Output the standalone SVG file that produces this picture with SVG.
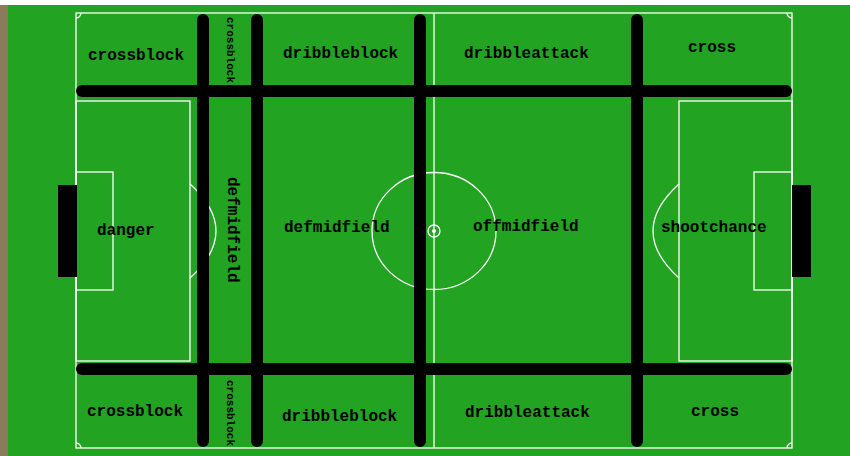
<svg xmlns="http://www.w3.org/2000/svg" width="850" height="456" viewBox="0 0 850 456">
<style>
.ln{fill:none;stroke:#ffffff;stroke-width:1.3}
.bar{stroke:#000;stroke-width:12;stroke-linecap:round}
.lbl{font-family:"Liberation Mono","DejaVu Sans Mono",monospace;font-weight:bold;font-size:16px;fill:#000}
.sm{font-size:11px}
</style>
<rect x="0" y="0" width="850" height="456" fill="#ffffff"/>
<rect x="0" y="5" width="8" height="451" fill="#8b7b5c"/>
<rect x="8" y="5" width="842" height="451" fill="#22a322"/>
<g id="field">
<rect class="ln" x="76" y="13" width="716" height="435"/>
<line class="ln" x1="434" y1="13" x2="434" y2="448"/>
<ellipse class="ln" cx="434" cy="231" rx="62" ry="58.5"/>
<circle class="ln" cx="434" cy="231" r="6"/>
<circle cx="434" cy="231" r="2" fill="#fff"/>
<rect class="ln" x="76" y="101" width="114" height="260"/>
<rect class="ln" x="76" y="172" width="37" height="118"/>
<path class="ln" d="M190,184 Q242,231 190,278"/>
<rect class="ln" x="679" y="101" width="113" height="260"/>
<rect class="ln" x="754" y="172" width="38" height="118"/>
<path class="ln" d="M679,184 Q627,231 679,278"/>
<path class="ln" d="M76,18 A5,5 0 0 0 81,13"/>
<path class="ln" d="M787,13 A5,5 0 0 0 792,18"/>
<path class="ln" d="M81,448 A5,5 0 0 0 76,443"/>
<path class="ln" d="M792,443 A5,5 0 0 0 787,448"/>
<rect x="58" y="185" width="19" height="92" fill="#000"/>
<rect x="792" y="185" width="19" height="92" fill="#000"/>
</g>
<g id="connectors">
<line class="bar" x1="82" y1="91" x2="786" y2="91"/>
<line class="bar" x1="82" y1="369" x2="786" y2="369"/>
<line class="bar" x1="203" y1="20" x2="203" y2="441"/>
<line class="bar" x1="257" y1="20" x2="257" y2="441"/>
<line class="bar" x1="420" y1="20" x2="420" y2="441"/>
<line class="bar" x1="637" y1="20" x2="637" y2="441"/>
</g>
<g id="n-crossblock-tl"><text class="lbl" x="88" y="60">crossblock</text></g>
<g id="n-crossblock-tv"><text class="lbl sm" transform="translate(227,17) rotate(90)">crossblock</text></g>
<g id="n-dribbleblock-t"><text class="lbl" x="283" y="58">dribbleblock</text></g>
<g id="n-dribbleattack-t"><text class="lbl" x="464" y="58">dribbleattack</text></g>
<g id="n-cross-t"><text class="lbl" x="688" y="52">cross</text></g>
<g id="n-danger"><text class="lbl" x="97" y="235">danger</text></g>
<g id="n-defmidfield-v"><text class="lbl" transform="translate(228,177) rotate(90)">defmidfield</text></g>
<g id="n-defmidfield"><text class="lbl" x="284" y="232">defmidfield</text></g>
<g id="n-offmidfield"><text class="lbl" x="473" y="231">offmidfield</text></g>
<g id="n-shootchance"><text class="lbl" x="661" y="232">shootchance</text></g>
<g id="n-crossblock-bl"><text class="lbl" x="87" y="416">crossblock</text></g>
<g id="n-crossblock-bv"><text class="lbl sm" transform="translate(227,380) rotate(90)">crossblock</text></g>
<g id="n-dribbleblock-b"><text class="lbl" x="282" y="421">dribbleblock</text></g>
<g id="n-dribbleattack-b"><text class="lbl" x="465" y="417">dribbleattack</text></g>
<g id="n-cross-b"><text class="lbl" x="691" y="416">cross</text></g>
</svg>
